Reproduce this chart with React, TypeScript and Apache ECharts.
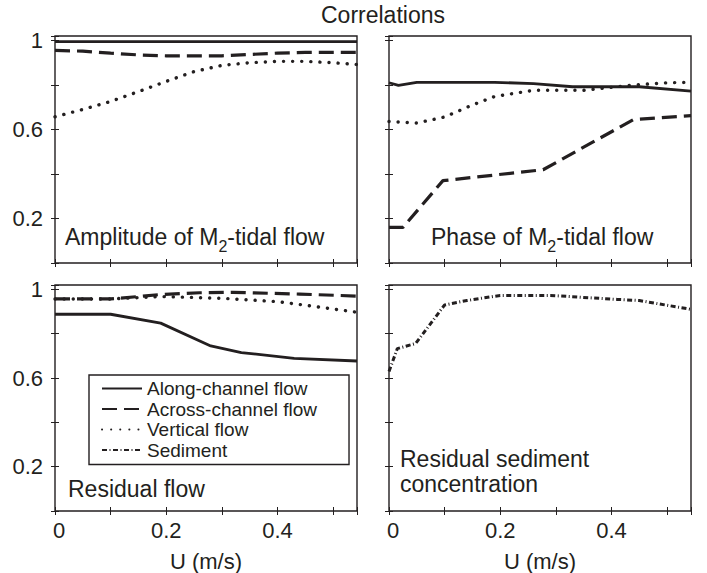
import React, { useEffect, useRef } from 'react';
import * as echarts from 'echarts';

const FONT = '"Liberation Sans", Arial, Helvetica, sans-serif';
const INK = '#231f20';

// ---- labels / ticks ----
const chartTitle = 'Correlations';
const seriesNames = ['Along-channel flow', 'Across-channel flow', 'Vertical flow', 'Sediment'];
const yTickLabels = [0.2, 0.6, 1];
const xTickLabels = [0, 0.2, 0.4];
const xAxisName = 'U (m/s)';

// ---- Amplitude of M2-tidal flow ----
const amplitudeAlong = [[0, 0.995], [0.1, 0.995], [0.2, 0.995], [0.3, 0.995], [0.4, 0.995], [0.543, 0.995]];
const amplitudeAcross = [[0, 0.955], [0.05, 0.952], [0.1, 0.943], [0.15, 0.935], [0.2, 0.931], [0.3, 0.931], [0.35, 0.937], [0.4, 0.943], [0.45, 0.946], [0.543, 0.946]];
const amplitudeVertical = [[0, 0.657], [0.05, 0.69], [0.1, 0.726], [0.15, 0.77], [0.2, 0.816], [0.25, 0.86], [0.3, 0.888], [0.35, 0.9], [0.4, 0.906], [0.45, 0.906], [0.5, 0.9], [0.543, 0.892]];

// ---- Phase of M2-tidal flow ----
const phaseAlong = [[0, 0.81], [0.017, 0.798], [0.05, 0.812], [0.19, 0.812], [0.26, 0.806], [0.33, 0.792], [0.45, 0.792], [0.543, 0.772]];
const phaseAcross = [[0, 0.16], [0.025, 0.16], [0.097, 0.37], [0.277, 0.419], [0.439, 0.644], [0.543, 0.662]];
const phaseVertical = [[0, 0.636], [0.05, 0.629], [0.1, 0.656], [0.15, 0.71], [0.19, 0.748], [0.26, 0.776], [0.35, 0.776], [0.44, 0.8], [0.5, 0.81], [0.543, 0.812]];

// ---- Residual flow ----
const residualAlong = [[0, 0.888], [0.1, 0.888], [0.19, 0.848], [0.28, 0.745], [0.335, 0.715], [0.43, 0.689], [0.543, 0.677]];
const residualAcross = [[0, 0.957], [0.1, 0.957], [0.19, 0.977], [0.26, 0.985], [0.32, 0.987], [0.44, 0.979], [0.543, 0.97]];
const residualVertical = [[0, 0.957], [0.1, 0.957], [0.19, 0.968], [0.3, 0.96], [0.4, 0.945], [0.47, 0.922], [0.543, 0.897]];

// ---- Residual sediment concentration ----
const sedimentConc = [[0, 0.63], [0.015, 0.733], [0.048, 0.756], [0.1, 0.93], [0.14, 0.95], [0.2, 0.973], [0.29, 0.973], [0.41, 0.955], [0.45, 0.95], [0.543, 0.91]];

const X_MAX = 0.543;
const Y_MAX = 1.02;

const grids = [
  { left: 55, top: 36, width: 302, height: 227 },
  { left: 389, top: 36, width: 302, height: 227 },
  { left: 55, top: 285, width: 302, height: 226 },
  { left: 389, top: 285, width: 302, height: 226 },
];

const styles: Record<string, any> = {
  'Along-channel flow': { color: INK, width: 2.8, type: 'solid' },
  'Across-channel flow': { color: INK, width: 3.2, type: [15, 7], cap: 'butt' },
  'Vertical flow': { color: INK, width: 3.4, type: [0.1, 9], cap: 'round' },
  'Sediment': { color: INK, width: 3, type: [5, 2.5, 1, 2.5], cap: 'butt' },
};

function near(v: number, list: number[]) {
  for (const t of list) if (Math.abs(v - t) < 1e-6) return t;
  return null;
}

function buildOption() {
  const xAxis: any[] = [];
  const yAxis: any[] = [];
  const tick = { show: true, inside: true, length: 4, lineStyle: { color: INK, width: 1 } };
  for (let i = 0; i < 4; i++) {
    const bottom = i >= 2;
    xAxis.push({
      type: 'value', gridIndex: i, min: 0, max: X_MAX, interval: 0.1, position: 'bottom',
      axisLine: { show: false }, axisTick: tick, splitLine: { show: false },
      axisLabel: {
        show: bottom, fontSize: 22, color: INK, fontFamily: FONT, margin: 8,
        formatter: (v: number) => {
          const t = near(v, xTickLabels);
          if (t === null) return '';
          return t === 0 ? '{z|0}' : String(t);
        },
        rich: { z: { fontSize: 22, color: INK, fontFamily: FONT, padding: [0, 0, 0, 8] } },
      },
      name: bottom ? xAxisName : '', nameLocation: 'middle', nameGap: 39,
      nameTextStyle: { fontSize: 22, color: INK, fontFamily: FONT },
    });
    const left = i % 2 === 0;
    yAxis.push({
      type: 'value', gridIndex: i, min: 0, max: Y_MAX, interval: 0.2, position: 'left',
      axisLine: { show: false }, axisTick: tick, splitLine: { show: false },
      axisLabel: {
        show: left, fontSize: 22, color: INK, fontFamily: FONT, margin: 12,
        formatter: (v: number) => { const t = near(v, yTickLabels); return t === null ? '' : String(t); },
      },
    });
  }
  for (let i = 0; i < 4; i++) {
    xAxis.push({
      type: 'value', gridIndex: i, min: 0, max: X_MAX, interval: 0.1, position: 'top',
      axisLine: { show: false }, axisTick: tick, splitLine: { show: false }, axisLabel: { show: false },
    });
    yAxis.push({
      type: 'value', gridIndex: i, min: 0, max: Y_MAX, interval: 0.2, position: 'right',
      axisLine: { show: false }, axisTick: tick, splitLine: { show: false }, axisLabel: { show: false },
    });
  }

  const mk = (name: string, idx: number, data: number[][]) => ({
    type: 'line', name, xAxisIndex: idx, yAxisIndex: idx, data,
    symbol: 'none', showSymbol: false, silent: true,
    lineStyle: styles[name], itemStyle: { color: INK },
  });

  const series = [
    mk(seriesNames[0], 0, amplitudeAlong),
    mk(seriesNames[1], 0, amplitudeAcross),
    mk(seriesNames[2], 0, amplitudeVertical),
    mk(seriesNames[0], 1, phaseAlong),
    mk(seriesNames[1], 1, phaseAcross),
    mk(seriesNames[2], 1, phaseVertical),
    mk(seriesNames[0], 2, residualAlong),
    mk(seriesNames[1], 2, residualAcross),
    mk(seriesNames[2], 2, residualVertical),
    mk(seriesNames[3], 3, sedimentConc),
  ];

  const a = { fontSize: 23, fontFamily: FONT, fill: INK };
  const s = { fontSize: 16, fontFamily: FONT, fill: INK, padding: [19, 0, 0, 0] };
  const txt = (x: number, y: number, text: string, rich?: any) => ({
    type: 'text', x, y, silent: true,
    style: { text, fontSize: 23, fontFamily: FONT, fill: INK, verticalAlign: 'middle', align: 'left', rich },
  });

  return {
    animation: false,
    backgroundColor: '#fff',
    title: {
      text: chartTitle, left: 321, top: 3, padding: 0,
      textStyle: { fontSize: 23, fontWeight: 'normal', color: INK, fontFamily: FONT },
    },
    grid: grids.map((g) => ({ ...g, show: true, borderColor: INK, borderWidth: 1.4, backgroundColor: 'transparent', containLabel: false })),
    xAxis, yAxis, series,
    legend: {
      orient: 'vertical', left: 89, top: 375, data: seriesNames,
      itemWidth: 40, itemHeight: 14, itemGap: 1.5, padding: [4, 32, 5, 12],
      borderColor: INK, borderWidth: 1.4, backgroundColor: '#fff', borderRadius: 0,
      selectedMode: false,
      itemStyle: { opacity: 0 },
      textStyle: { fontSize: 19, color: INK, fontFamily: FONT, lineHeight: 19 },
    },
    graphic: [
      txt(65, 237, '{a|Amplitude of M}{s|2}{a|-tidal flow}', { a, s }),
      txt(431, 237, '{a|Phase of M}{s|2}{a|-tidal flow}', { a, s }),
      txt(68, 489, 'Residual flow'),
      txt(400, 459, 'Residual sediment'),
      txt(400, 484, 'concentration'),
    ],
  };
}

export default function App() {
  const ref = useRef<HTMLDivElement>(null);
  useEffect(() => {
    if (!ref.current) return;
    const chart = echarts.init(ref.current, null, { renderer: 'svg' });
    chart.setOption(buildOption() as any);
    return () => chart.dispose();
  }, []);
  return (
    <div
      ref={ref}
      style={{ position: 'absolute', left: 0, top: 0, width: 707, height: 573, background: '#fff' }}
    />
  );
}
